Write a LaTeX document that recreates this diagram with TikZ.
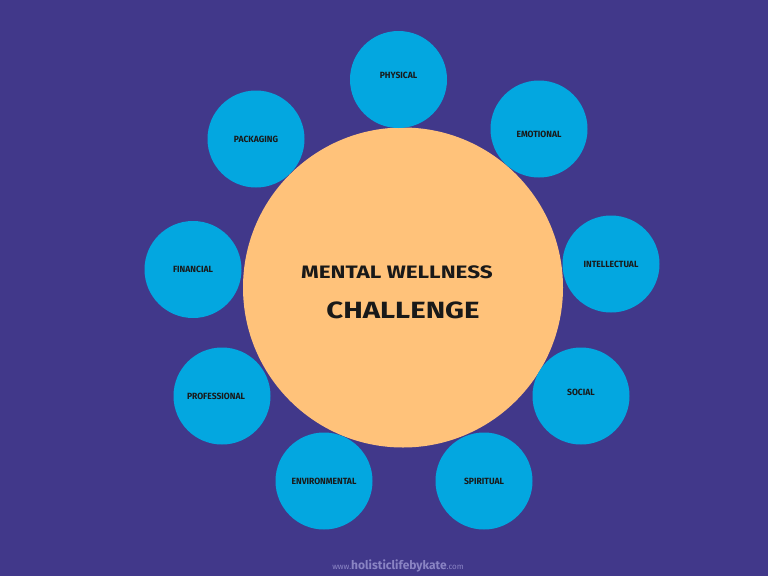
\documentclass[tikz,border=0pt]{standalone}
\usepackage{fontspec}
\setmainfont{Fira Sans}
\newfontfamily\lblfont{Fira Sans}[FakeStretch=0.95]
\newfontfamily\titlefont{Fira Sans}[FakeStretch=1.25]
\usepackage{xcolor}
\definecolor{bgcol}{HTML}{41388A}
\definecolor{hubcol}{HTML}{FFC27A}
\definecolor{dimcol}{HTML}{03A7E0}
\definecolor{webcol}{HTML}{8A84C4}

\begin{document}
\begin{tikzpicture}[x=1pt, y=-1pt,
  hub/.style={circle, fill=hubcol, minimum size=320pt, inner sep=0pt},
  dimtext/.style={font=\lblfont\bfseries\fontsize{9}{11}\selectfont, text=black!90},
  dim/.style={circle, fill=dimcol, minimum size=97pt, inner sep=0pt, dimtext},
  every label/.style={dimtext},
  title/.style={text=black!90}]
  \fill[bgcol] (0,0) rectangle (768,576);
  \useasboundingbox (0,0) rectangle (768,576);
  \node[hub] (hub) at (403,287.5) {};
  \node[title, font=\titlefont\bfseries\fontsize{18}{21}\selectfont] (mental) at (397,272) {MENTAL WELLNESS};
  \node[title, font=\titlefont\bfseries\fontsize{23.5}{28}\selectfont] (chall) at (403,310) {CHALLENGE};
  \node[dim, label={[yshift=4pt]center:PHYSICAL}] (phys) at (398.5,79.5) {};
  \node[dim, label={[yshift=-5pt]center:EMOTIONAL}] (emot) at (539,129) {};
  \node[dim] (intel) at (611,264) {INTELLECTUAL};
  \node[dim, label={[yshift=4pt]center:SOCIAL}] (soc) at (581,396) {};
  \node[dim] (spir) at (484,481) {SPIRITUAL};
  \node[dim] (env) at (324,481) {ENVIRONMENTAL};
  \node[dim, label={[xshift=-6pt]center:PROFESSIONAL}] (prof) at (222,396) {};
  \node[dim] (fin) at (193,269.5) {FINANCIAL};
  \node[dim] (pack) at (256,139) {PACKAGING};
  \node[font=\fontsize{8}{9}\selectfont, text=webcol] (web) at (398,566)
    {www.{\bfseries\fontsize{12}{13}\selectfont holisticlifebykate}.com};
\end{tikzpicture}
\end{document}
